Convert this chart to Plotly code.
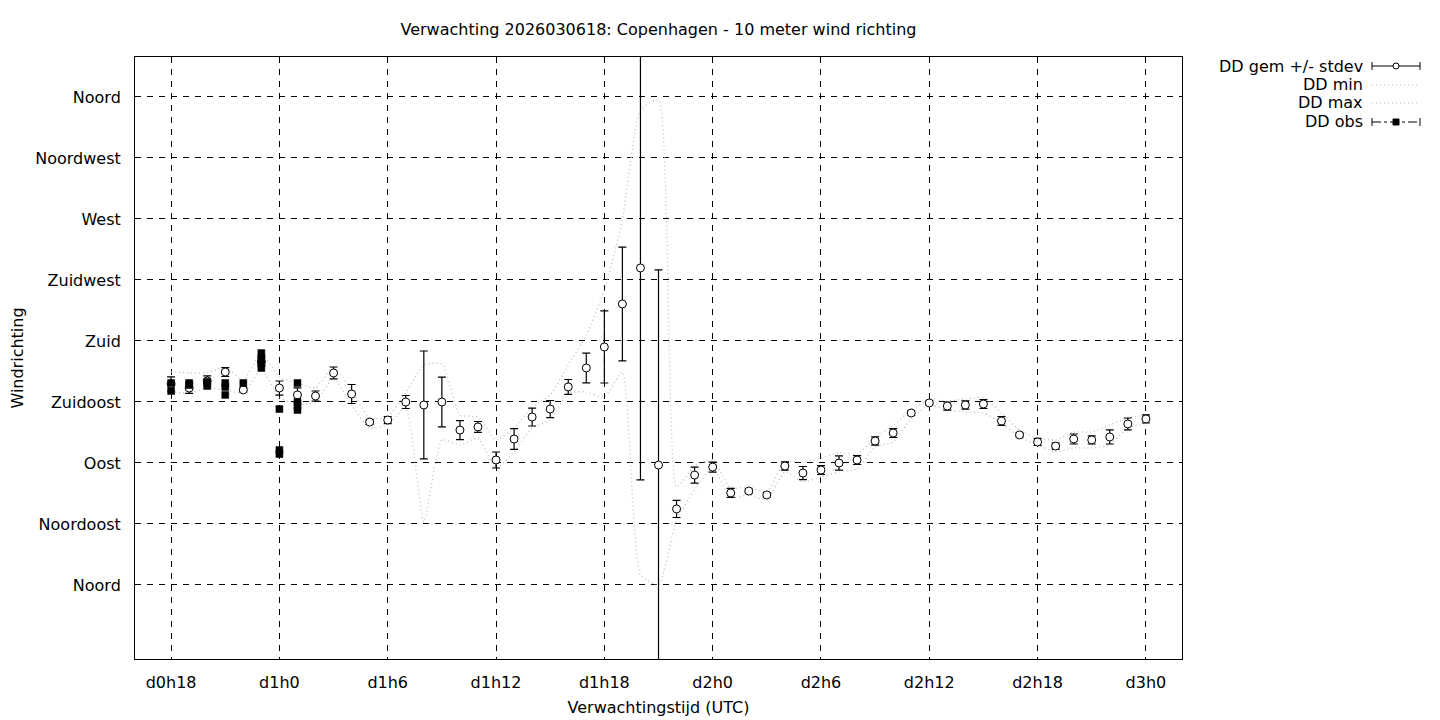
import plotly.graph_objects as go

# ---- data (forecast hours since d0h0) ----
hours = list(range(18, 73))

dd_mean = [148.3, 145.3, 150.5, 157.1, 143.9, 164.5, 145.3, 140.2, 139.4, 156.4,
           140.9, 120.2, 121.7, 135.0, 132.8, 135.0, 114.3, 116.6, 92.2, 107.7,
           123.9, 129.8, 146.1, 160.1, 175.6, 207.3, 233.9, 88.5, 56.1, 81.1,
           87.0, 67.9, 69.3, 66.4, 87.8, 82.6, 84.8, 90.0, 92.2, 106.2,
           112.1, 126.9, 134.3, 132.0, 132.8, 133.5, 121.0, 110.7, 105.5, 102.5,
           107.7, 107.0, 109.2, 118.8, 122.5]

dd_stdev = [5.2, 4.0, 3.7, 3.3, 1.5, 3.0, 5.2, 5.2, 3.7, 4.4,
            7.0, 1.8, 2.6, 4.8, 39.8, 18.4, 7.0, 4.0, 5.9, 7.7,
            6.6, 6.3, 5.5, 11.0, 26.6, 42.0, 156.4, 143.9, 6.3, 5.9,
            3.7, 3.3, 1.5, 1.5, 3.0, 4.8, 3.3, 5.2, 3.3, 3.0,
            3.3, 1.5, 1.5, 3.0, 3.0, 3.3, 3.3, 1.5, 2.6, 2.2,
            3.7, 3.0, 5.2, 4.4, 3.0]

dd_min = [142.4, 141.6, 145.3, 143.9, 141.6, 158.6, 138.7, 132.8, 135.0, 152.7,
          132.8, 115.8, 118.0, 130.6, 46.5, 107.0, 103.3, 108.4, 86.3, 98.1,
          115.8, 121.7, 141.6, 142.4, 138.7, 157.1, 7.4, 0.0, 48.0, 70.1,
          87.0, 64.2, 66.4, 62.7, 83.4, 76.0, 79.7, 83.4, 85.6, 101.8,
          105.5, 122.5, 132.8, 129.1, 127.6, 126.9, 119.5, 109.2, 103.3, 98.1,
          101.1, 101.1, 103.3, 115.8, 119.5]

dd_max = [157.1, 156.4, 156.4, 160.8, 151.2, 171.1, 153.4, 149.0, 145.3, 160.8,
          143.9, 123.2, 123.9, 141.6, 162.3, 163.0, 125.4, 123.9, 107.0, 115.8,
          131.3, 140.2, 162.3, 184.4, 217.6, 269.3, 350.4, 357.8, 72.3, 87.8,
          92.2, 71.6, 72.3, 68.6, 90.7, 90.7, 93.7, 97.4, 96.6, 108.4,
          118.0, 129.1, 136.5, 135.7, 137.2, 138.0, 126.9, 114.3, 108.4, 107.0,
          112.9, 112.9, 118.0, 123.2, 125.4]

obs_hours = [18, 18, 19, 19, 20, 20, 21, 21, 21, 22,
             23, 23, 23, 23, 24, 24, 24, 25, 25, 25, 25]
obs_dir = [149.0, 143.1, 149.0, 147.5, 149.8, 146.8, 149.0, 146.1, 140.2, 149.0,
           171.1, 167.5, 163.8, 160.1, 129.8, 99.6, 96.6, 149.0, 135.0, 132.0, 129.1]

y_tickvals = [0, 45, 90, 135, 180, 225, 270, 315, 360]
y_ticktext = ["Noord", "Noordoost", "Oost", "Zuidoost", "Zuid", "Zuidwest",
              "West", "Noordwest", "Noord"]
x_tickvals = [18, 24, 30, 36, 42, 48, 54, 60, 66, 72]
x_ticktext = ["d0h18", "d1h0", "d1h6", "d1h12", "d1h18", "d2h0", "d2h6",
              "d2h12", "d2h18", "d3h0"]

legend_names = ["DD gem +/- stdev", "DD min", "DD max", "DD obs"]

FONT = "DejaVu Sans"
FS = 16
GRAY = "#bdbdbd"
DOT = "1px,3px"

fig = go.Figure()

fig.add_trace(go.Scatter(x=hours, y=dd_min, mode="lines", name=legend_names[1],
                         line=dict(color=GRAY, width=1.3, dash=DOT,
                                   shape="spline", smoothing=0.5),
                         showlegend=False, hoverinfo="skip"))
fig.add_trace(go.Scatter(x=hours, y=dd_max, mode="lines", name=legend_names[2],
                         line=dict(color=GRAY, width=1.3, dash=DOT,
                                   shape="spline", smoothing=0.5),
                         showlegend=False, hoverinfo="skip"))
fig.add_trace(go.Scatter(x=hours, y=dd_mean, mode="markers", name=legend_names[0],
                         marker=dict(symbol="circle", size=8, color="white",
                                     line=dict(color="black", width=1)),
                         error_y=dict(type="data", array=dd_stdev, visible=True,
                                      color="black", thickness=1.2, width=4),
                         showlegend=False))
fig.add_trace(go.Scatter(x=obs_hours, y=obs_dir, mode="markers", name=legend_names[3],
                         marker=dict(symbol="square", size=7, color="black",
                                     line=dict(color="black", width=0.5)),
                         showlegend=False))

# page offset (body margin) and target plot area in screen pixels
OFF = 8
FW, FH = 1440 - OFF, 720 - OFF
L, R, T, B = 135, 1182, 57, 659
W, H = R - L, B - T


def px(xp):
    return (xp - L) / W


def py(yp):
    return (B - yp) / H


shapes = []
annotations = []
rows = [66, 85, 103, 122]
for name, yrow in zip(legend_names, rows):
    annotations.append(dict(x=px(1365), y=py(yrow), xref="paper", yref="paper",
                            text=name, showarrow=False, xanchor="right",
                            yanchor="middle", font=dict(family=FONT, size=FS, color="black")))
# gem sample
shapes.append(dict(type="line", xref="paper", yref="paper", x0=px(1372), x1=px(1420),
                   y0=py(66), y1=py(66), line=dict(color="black", width=1)))
for xx in (1372, 1420):
    shapes.append(dict(type="line", xref="paper", yref="paper", x0=px(xx), x1=px(xx),
                       y0=py(62), y1=py(70), line=dict(color="black", width=1)))
shapes.append(dict(type="circle", xref="paper", yref="paper", x0=px(1393), x1=px(1399),
                   y0=py(69), y1=py(63), fillcolor="white", line=dict(color="black", width=1)))
# min / max samples
for yrow in (85, 103):
    shapes.append(dict(type="line", xref="paper", yref="paper", x0=px(1372), x1=px(1420),
                       y0=py(yrow), y1=py(yrow), line=dict(color=GRAY, width=1, dash=DOT)))
# obs sample
shapes.append(dict(type="line", xref="paper", yref="paper", x0=px(1372), x1=px(1420),
                   y0=py(122), y1=py(122), line=dict(color="black", width=1, dash="dashdot")))
for xx in (1372, 1420):
    shapes.append(dict(type="line", xref="paper", yref="paper", x0=px(xx), x1=px(xx),
                       y0=py(118), y1=py(126), line=dict(color="black", width=1)))
shapes.append(dict(type="rect", xref="paper", yref="paper", x0=px(1393), x1=px(1399),
                   y0=py(125), y1=py(119), fillcolor="black", line=dict(color="black", width=1)))

fig.update_layout(
    width=FW, height=FH,
    margin=dict(l=L - OFF, r=FW - (R - OFF), t=T - OFF, b=FH - (B - OFF), autoexpand=False),
    paper_bgcolor="white", plot_bgcolor="white",
    font=dict(family=FONT, size=FS, color="black"),
    title=dict(text="Verwachting 2026030618: Copenhagen - 10 meter wind richting",
               x=((L + R) / 2 - OFF) / FW, xanchor="center",
               y=1 - (29 - OFF) / FH, yanchor="middle",
               font=dict(family=FONT, size=FS, color="black")),
    shapes=shapes, annotations=annotations,
    showlegend=False,
)
fig.update_xaxes(range=[16, 74], tickvals=x_tickvals, ticktext=x_ticktext,
                 showgrid=True, gridcolor="black", gridwidth=1, griddash="6px,6px",
                 showline=True, linecolor="black", linewidth=1, mirror=True,
                 ticks="", ticklabelstandoff=9, zeroline=False, automargin=False,
                 title=dict(text="Verwachtingstijd (UTC)", standoff=10,
                            font=dict(family=FONT, size=FS)))
fig.update_yaxes(range=[-54.6, 389.5], tickvals=y_tickvals, ticktext=y_ticktext,
                 showgrid=True, gridcolor="black", gridwidth=1, griddash="6px,6px",
                 showline=True, linecolor="black", linewidth=1, mirror=True,
                 ticks="", ticklabelstandoff=10, zeroline=False, automargin=False,
                 title=dict(text="Windrichting", standoff=12,
                            font=dict(family=FONT, size=FS)))

fig.write_html("out.html")
